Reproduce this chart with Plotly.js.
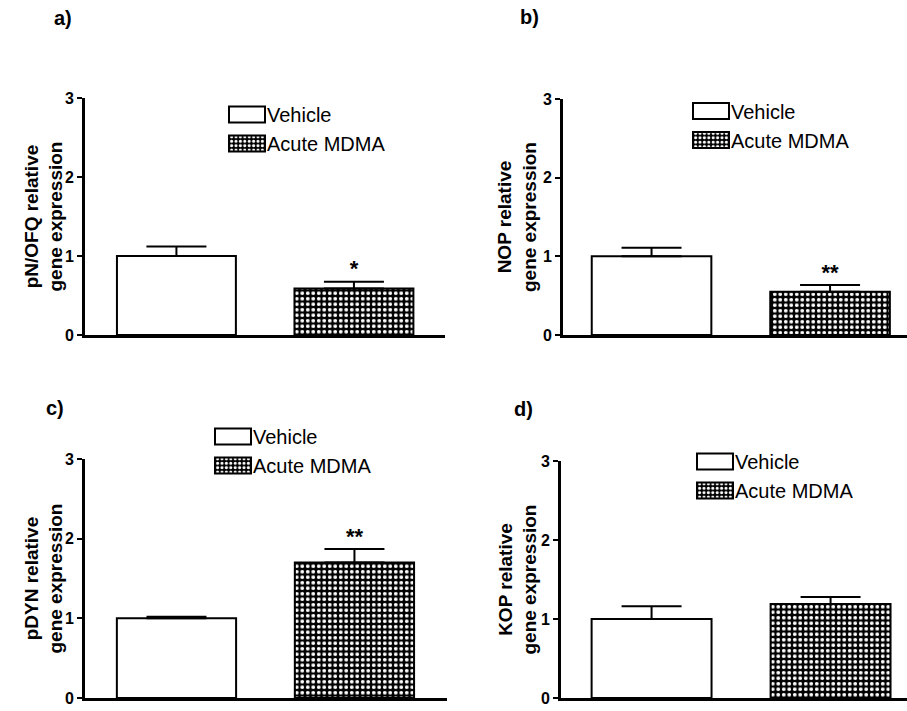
<!DOCTYPE html>
<html>
<head>
<meta charset="utf-8">
<script src="https://cdn.plot.ly/plotly-3.0.1.min.js"></script>
<style>html,body{margin:0;padding:0;background:#fff;}#chart{width:907px;height:711px;}</style>
</head>
<body>
<div id="chart"></div>
<script>
// ---- data ----
const groups = ['Vehicle', 'Acute MDMA'];
const panelLabels = ['a)', 'b)', 'c)', 'd)'];
const yTitles = ['pN/OFQ relative<br>gene expression', 'NOP relative<br>gene expression',
                 'pDYN relative<br>gene expression', 'KOP relative<br>gene expression'];
const vehicleMean = [1.00, 1.00, 1.00, 1.00];
const vehicleSem  = [0.12, 0.11, 0.02, 0.16];
const mdmaMean    = [0.59, 0.55, 1.70, 1.19];
const mdmaSem     = [0.085, 0.085, 0.17, 0.09];
const significance = ['*', '**', '**', ''];
const yTickVals = [0, 1, 2, 3];

// ---- layout geometry (px) ----
const W = 907, H = 711;
const FONT = 'Liberation Sans, Arial, sans-serif';
const geom = [
  {x0: 85,  x1: 445, yTop: 98,  yBot: 335, xr: [-0.515, 1.513], leg: [227, 95],  lab: [63, 18],  tit: 43},
  {x0: 563, x1: 907, yTop: 99,  yBot: 335, xr: [-0.496, 1.431], leg: [691, 91.5], lab: [529, 17], tit: 517},
  {x0: 85,  x1: 447, yTop: 459, yBot: 698, xr: [-0.514, 1.520], leg: [213, 417], lab: [55, 408], tit: 43},
  {x0: 561, x1: 907, yTop: 461, yBot: 698, xr: [-0.506, 1.427], leg: [695, 442], lab: [523, 409], tit: 517}
];

const traces = [];
const layout = {
  width: W, height: H,
  margin: {l: 0, r: 0, t: 0, b: 0},
  paper_bgcolor: 'white', plot_bgcolor: 'rgba(0,0,0,0)',
  font: {family: FONT, color: 'black'},
  barmode: 'overlay',
  showlegend: true,
  annotations: []
};

geom.forEach((g, i) => {
  const sfx = i === 0 ? '' : String(i + 1);
  const xa = 'x' + sfx, ya = 'y' + sfx;
  const legId = 'legend' + sfx;

  traces.push({
    type: 'bar', name: groups[0], x: [groups[0]], y: [vehicleMean[i]], width: [0.67],
    xaxis: xa, yaxis: ya, legend: legId,
    marker: {color: 'white', line: {color: 'black', width: 2}},
    error_y: {type: 'data', array: [vehicleSem[i]], arrayminus: [0], symmetric: false,
              color: 'black', thickness: 2, width: 30},
    hoverinfo: 'skip'
  });
  traces.push({
    type: 'bar', name: groups[1], x: [groups[1]], y: [mdmaMean[i]], width: [0.67],
    xaxis: xa, yaxis: ya, legend: legId,
    marker: {color: 'black', line: {color: 'black', width: 2},
             pattern: {shape: '.', fillmode: 'replace', bgcolor: 'black', fgcolor: 'white',
                       size: 5.5, solidity: 0.38}},
    error_y: {type: 'data', array: [mdmaSem[i]], arrayminus: [0], symmetric: false,
              color: 'black', thickness: 2, width: 30},
    hoverinfo: 'skip'
  });
  traces.push({
    type: 'scatter', mode: 'text', x: [groups[1]], y: [mdmaMean[i] + mdmaSem[i]],
    text: [significance[i]], textposition: 'top center',
    textfont: {size: 22, color: 'black', family: FONT, weight: 'bold'},
    xaxis: xa, yaxis: ya, showlegend: false, hoverinfo: 'skip'
  });

  layout['xaxis' + sfx] = {
    domain: [g.x0 / W, Math.min(1, g.x1 / W)], range: g.xr, type: 'category',
    anchor: ya, showticklabels: false, ticks: '', showgrid: false, zeroline: false,
    showline: true, linecolor: 'black', linewidth: 3, fixedrange: true
  };
  layout['yaxis' + sfx] = {
    domain: [(H - g.yBot) / H, (H - g.yTop) / H], range: [0, 3], anchor: xa,
    tickvals: yTickVals, ticks: 'outside', ticklen: 5, tickwidth: 2, tickcolor: 'black',
    tickfont: {size: 16, color: 'black', family: FONT, weight: 'bold'},
    showgrid: false, zeroline: false, showline: true, linecolor: 'black', linewidth: 3,
    fixedrange: true
  };
  layout[legId] = {
    x: g.leg[0] / W, y: (H - g.leg[1]) / H, xanchor: 'left', yanchor: 'top',
    xref: 'paper', yref: 'paper', bgcolor: 'rgba(0,0,0,0)', borderwidth: 0,
    font: {size: 20, color: 'black', family: FONT}, traceorder: 'normal',
    itemclick: false, itemdoubleclick: false
  };
  layout.annotations.push({
    xref: 'paper', yref: 'paper', x: g.lab[0] / W, y: (H - g.lab[1]) / H,
    text: panelLabels[i], showarrow: false, xanchor: 'center', yanchor: 'middle',
    font: {size: 20, color: 'black', family: FONT, weight: 'bold'}
  });
  layout.annotations.push({
    xref: 'paper', yref: 'paper', x: g.tit / W, y: (H - (g.yTop + g.yBot) / 2) / H,
    text: yTitles[i], showarrow: false, textangle: -90, xanchor: 'center', yanchor: 'middle',
    font: {size: 19, color: 'black', family: FONT, weight: 'bold'}
  });
});

function widenLegendBoxes() {
  document.querySelectorAll('g.legendpoints path').forEach(p => {
    p.setAttribute('d', 'M18,8H-18V-8H18Z');
  });
}
const gd = document.getElementById('chart');
Plotly.newPlot(gd, traces, layout, {staticPlot: true, displayModeBar: false}).then(() => {
  widenLegendBoxes();
  gd.on && gd.on('plotly_afterplot', widenLegendBoxes);
  setTimeout(widenLegendBoxes, 50);
  setTimeout(widenLegendBoxes, 300);
});
</script>
</body>
</html>
